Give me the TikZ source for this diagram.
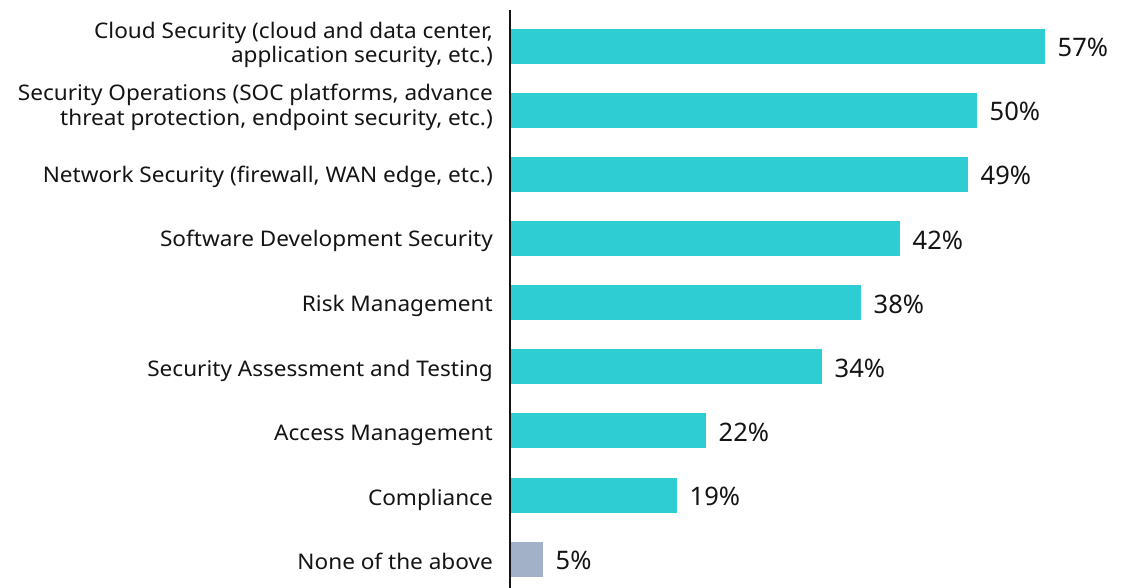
\documentclass[tikz,border=0pt]{standalone}
\usepackage{fontspec}
\setmainfont{Noto Sans}
\newfontfamily\lblfont[FakeStretch=1.05]{Noto Sans}
\definecolor{barteal}{HTML}{2DCDD3}
\definecolor{bargray}{HTML}{A3B1C8}
\definecolor{ink}{HTML}{141414}
\begin{document}
\begin{tikzpicture}[x=1pt,y=-1pt,
  lbl/.style={anchor=base east,inner sep=0pt,text=ink,font=\lblfont\fontsize{21.5}{26}\selectfont},
  pct/.style={anchor=base west,inner sep=0pt,text=ink,font=\fontsize{25.5}{30}\selectfont},
  bar/.style={fill=barteal},
  graybar/.style={fill=bargray}]
\useasboundingbox (0,0) rectangle (1130,588);
\def\bh{17.5}
% bars and values
\foreach \i/\e/\p/\st in {0/1045/57/bar,1/977/50/bar,2/968/49/bar,3/900/42/bar,4/861/38/bar,5/822/34/bar,6/706/22/bar,7/677/19/bar,8/543/5/graybar}{
  \pgfmathsetmacro{\c}{46.3+64.1*\i}
  \fill[\st] (510,\c-\bh) rectangle (\e,\c+\bh);
  \node[pct] (p\i) at (\e+12.5,\c+10.5) {\p\%};
}
% axis
\draw[ink,line width=2pt] (510,10) -- (510,588);
% labels
\node[lbl] (l0a) at (493,38.3) {Cloud Security (cloud and data center,};
\node[lbl] (l0b) at (493,63) {application security, etc.)};
\node[lbl] (l1a) at (493,101) {Security Operations (SOC platforms, advance};
\node[lbl] (l1b) at (493,126) {threat protection, endpoint security, etc.)};
\node[lbl] (l2) at (493,182.3) {Network Security (firewall, WAN edge, etc.)};
\node[lbl] (l3) at (493,246.7) {Software Development Security};
\node[lbl] (l4) at (493,311.7) {Risk Management};
\node[lbl] (l5) at (493,376.7) {Security Assessment and Testing};
\node[lbl] (l6) at (493,440.7) {Access Management};
\node[lbl] (l7) at (493,505) {Compliance};
\node[lbl] (l8) at (493,569.3) {None of the above};
\end{tikzpicture}
\end{document}
